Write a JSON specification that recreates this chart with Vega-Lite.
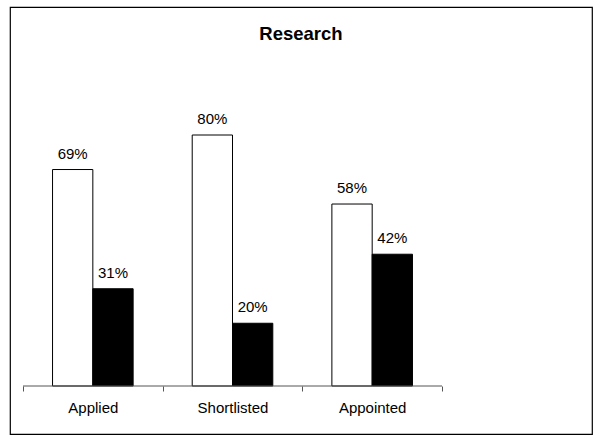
{
  "$schema": "https://vega.github.io/schema/vega-lite/v6.json",
  "width": 582,
  "height": 427,
  "autosize": "none",
  "padding": {"left": 10, "top": 7, "right": 6, "bottom": 2},
  "background": "white",
  "title": {
    "text": "Research",
    "fontSize": 18.5,
    "fontWeight": "bold",
    "font": "Liberation Sans",
    "color": "black",
    "anchor": "middle",
    "frame": "group",
    "baseline": "alphabetic",
    "offset": -51
  },
  "config": {
    "view": {"stroke": "black", "strokeWidth": 1.2},
    "font": "Liberation Sans"
  },
  "data": {
    "values": [
      {"stage": "Applied", "group": "Series 1", "value": 0.69, "label": "69%"},
      {"stage": "Applied", "group": "Series 2", "value": 0.31, "label": "31%"},
      {"stage": "Shortlisted", "group": "Series 1", "value": 0.80, "label": "80%"},
      {"stage": "Shortlisted", "group": "Series 2", "value": 0.20, "label": "20%"},
      {"stage": "Appointed", "group": "Series 1", "value": 0.58, "label": "58%"},
      {"stage": "Appointed", "group": "Series 2", "value": 0.42, "label": "42%"}
    ]
  },
  "encoding": {
    "x": {
      "field": "stage",
      "type": "nominal",
      "sort": null,
      "scale": {"domain": ["Applied", "Shortlisted", "Appointed"], "paddingInner": 0, "paddingOuter": 0.5835, "align": 0.0798},
      "axis": {
        "title": null,
        "orient": "bottom",
        "offset": -48,
        "domain": false,
        "tickBand": "extent",
        "tickSize": 5,
        "tickColor": "#555",
        "labelAngle": 0,
        "labelFontSize": 15,
        "labelColor": "black",
        "labelPadding": 9
      }
    },
    "xOffset": {
      "field": "group",
      "type": "nominal",
      "scale": {"paddingInner": 0, "paddingOuter": 0.733}
    },
    "y": {
      "field": "value",
      "type": "quantitative",
      "scale": {"domain": [-0.15299, 1.208], "zero": false, "nice": false},
      "axis": null
    }
  },
  "layer": [
    {
      "mark": {"type": "bar", "stroke": "black", "strokeWidth": 1},
      "encoding": {
        "y2": {"datum": 0},
        "color": {
          "field": "group",
          "type": "nominal",
          "scale": {"domain": ["Series 1", "Series 2"], "range": ["white", "black"]},
          "legend": null
        }
      }
    },
    {
      "mark": {"type": "text", "baseline": "alphabetic", "dy": -11, "fontSize": 15, "color": "black"},
      "encoding": {"text": {"field": "label"}}
    },
    {
      "data": {"values": [{"stage": "Applied", "end": "Appointed", "value": 0}]},
      "mark": {"type": "rule", "color": "#555", "strokeWidth": 1},
      "encoding": {
        "x": {"field": "stage", "type": "nominal", "sort": null, "bandPosition": 0},
        "x2": {"field": "end", "bandPosition": 1},
        "y": {"field": "value", "type": "quantitative"},
        "xOffset": null
      }
    }
  ]
}
